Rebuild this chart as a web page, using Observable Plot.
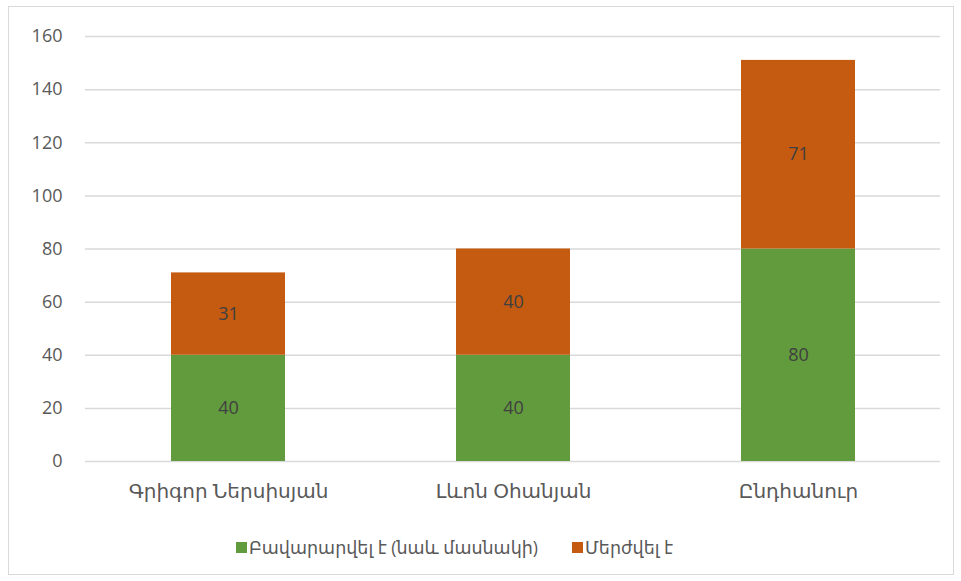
<!DOCTYPE html>
<html><head><meta charset="utf-8">
<script src="https://cdn.jsdelivr.net/npm/d3@7"></script>
<script src="https://cdn.jsdelivr.net/npm/@observablehq/plot@0.6"></script>
<style>
body{margin:0;background:#fff;font-family:"Open Sans","DejaVu Sans",sans-serif;}
#frame{position:absolute;left:8px;top:6px;width:946px;height:569px;border:1px solid #d9d9d9;box-sizing:border-box;}
#chart{position:absolute;left:0;top:0;}
#legend{position:absolute;left:236px;top:535px;display:flex;gap:34px;font-size:17.5px;color:#595959;white-space:nowrap;}
#legend span.sw{display:inline-block;width:11px;height:11px;margin-right:2px;vertical-align:middle;position:relative;top:-2px;}
</style></head>
<body>
<div id="frame"></div>
<div id="chart"></div>
<div id="legend"></div>
<script>
const categories = ["Գրիգոր Ներսիսյան", "Լևոն Օհանյան", "Ընդհանուր"];
const seriesNames = ["Բավարարվել է (նաև մասնակի)", "Մերժվել է"];
const satisfied = [40, 40, 80];
const rejected = [31, 40, 71];
const colors = ["#629b3e", "#c55a11"];
const yTicks = [0, 20, 40, 60, 80, 100, 120, 140, 160];

const data = [];
categories.forEach((c, i) => {
  data.push({cat: c, series: seriesNames[0], value: satisfied[i]});
  data.push({cat: c, series: seriesNames[1], value: rejected[i]});
});

const chart = Plot.plot({
  width: 961,
  height: 515,
  marginLeft: 85,
  marginRight: 21,
  marginTop: 36,
  marginBottom: 54,
  style: {fontFamily: '"Open Sans","DejaVu Sans",sans-serif', fontSize: "16px", color: "#595959", background: "transparent"},
  x: {domain: categories, paddingInner: 0.6, paddingOuter: 0.3, label: null, tickSize: 0},
  y: {domain: [0, 160], ticks: yTicks, label: null, tickSize: 0},
  color: {domain: seriesNames, range: colors},
  marks: [
    Plot.gridY(yTicks, {stroke: "#d9d9d9", strokeOpacity: 1, strokeWidth: 1.5}),
    Plot.barY(data, {x: "cat", y: "value", fill: "series", order: seriesNames}),
    Plot.text(data, Plot.stackY({x: "cat", y: "value", z: "series", order: seriesNames, text: d => String(d.value), fill: "#404040", fontSize: 18})),
    Plot.axisY(yTicks, {tickSize: 0, tickPadding: 23, fontSize: 18, label: null}),
    Plot.axisX({tickSize: 0, tickPadding: 22, fontSize: 20, label: null})
  ]
});
document.getElementById("chart").appendChild(chart);

const legend = document.getElementById("legend");
seriesNames.forEach((s, i) => {
  const d = document.createElement("div");
  d.innerHTML = `<span class="sw" style="background:${colors[i]}"></span>${s}`;
  legend.appendChild(d);
});
</script>
</body></html>
